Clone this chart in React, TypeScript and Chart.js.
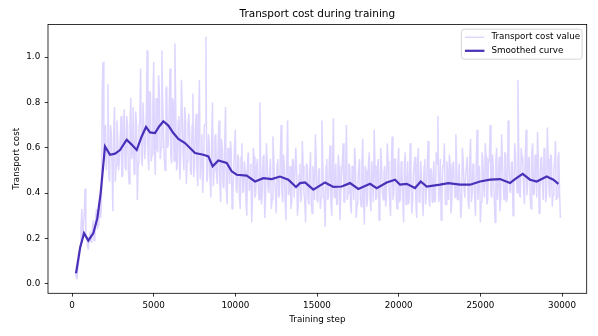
import React, { useEffect, useRef } from "react";
import { Chart, registerables } from "chart.js";

Chart.register(...registerables);

const chartTitle = "Transport cost during training";
const xAxisLabel = "Training step";
const yAxisLabel = "Transport cost";
const rawLabel = "Transport cost value";
const smoothLabel = "Smoothed curve";

const xTicks = [0, 5000, 10000, 15000, 20000, 25000, 30000];
const yTicks = [0.0, 0.2, 0.4, 0.6, 0.8, 1.0];

// raw values logged every 100 steps, starting at step 200
const rawFirstStep = 200;
const rawInterval = 100;
const rawValues = [
  0.05, 0.02, 0.09, 0.17, 0.33, 0.26, 0.42, 0.2, 0.15, 0.23,
  0.18, 0.28, 0.21, 0.33, 0.26, 0.36, 0.34, 0.98, 0.62, 0.5,
  0.88, 0.45, 0.67, 0.32, 0.78, 0.52, 0.63, 0.55, 0.74, 0.48,
  0.77, 0.5, 0.7, 0.44, 0.82, 0.58, 0.49, 0.76, 0.37, 0.68,
  0.95, 0.52, 0.8, 0.6, 1.03, 0.5, 0.84, 0.57, 0.98, 0.48,
  0.6, 0.92, 0.55, 1.03, 0.66, 0.5, 0.87, 0.62, 0.95, 0.53,
  0.8, 1.06, 0.5, 0.72, 0.46, 0.9, 0.58, 0.78, 0.44, 0.7,
  0.66, 0.48, 0.84, 0.52, 0.75, 0.43, 0.9, 0.55, 0.4, 0.7,
  1.09, 0.47, 0.62, 0.38, 0.8, 0.5, 0.66, 0.44, 0.72, 0.36,
  0.6, 0.42, 0.78, 0.35, 0.55, 0.63, 0.33, 0.5, 0.68, 0.4,
  0.55, 0.33, 0.62, 0.41, 0.5, 0.3, 0.58, 0.45, 0.27, 0.6,
  0.38, 0.52, 0.44, 0.8, 0.35, 0.56, 0.29, 0.62, 0.42, 0.5,
  0.33, 0.65, 0.45, 0.31, 0.55, 0.4, 0.7, 0.36, 0.52, 0.28,
  0.72, 0.41, 0.33, 0.55, 0.38, 0.6, 0.3, 0.48, 0.36, 0.63,
  0.4, 0.27, 0.52, 0.35, 0.58, 0.31, 0.45, 0.66, 0.37, 0.5,
  0.33, 0.72, 0.42, 0.25, 0.55, 0.38, 0.61, 0.3, 0.73, 0.44,
  0.35, 0.57, 0.28, 0.48, 0.62, 0.36, 0.7, 0.4, 0.52, 0.31,
  0.47, 0.6, 0.29, 0.43, 0.55, 0.34, 0.64, 0.26, 0.5, 0.39,
  0.58, 0.32, 0.46, 0.68, 0.37, 0.52, 0.28, 0.6, 0.41, 0.49,
  0.34, 0.62, 0.44, 0.3, 0.65, 0.4, 0.55, 0.33, 0.6, 0.37,
  0.5, 0.27, 0.58, 0.42, 0.35, 0.62, 0.31, 0.48, 0.56, 0.29,
  0.6, 0.38, 0.47, 0.3, 0.55, 0.41, 0.63, 0.34, 0.5, 0.45,
  0.36, 0.58, 0.74, 0.4, 0.28, 0.52, 0.62, 0.35, 0.48, 0.57,
  0.31, 0.5, 0.44, 0.66, 0.37, 0.53, 0.29, 0.6, 0.42, 0.48,
  0.56, 0.33, 0.64, 0.4, 0.5, 0.3, 0.68, 0.45, 0.27, 0.58,
  0.43, 0.62, 0.35, 0.55, 0.7, 0.38, 0.5, 0.27, 0.6, 0.46,
  0.32, 0.66, 0.44, 0.58, 0.36, 0.72, 0.41, 0.53, 0.3, 0.62,
  0.47, 0.9, 0.39, 0.6, 0.52, 0.35, 0.68, 0.45, 0.56, 0.33,
  0.62, 0.4, 0.5, 0.67, 0.31, 0.55, 0.44, 0.6, 0.36, 0.69,
  0.42, 0.57, 0.34, 0.5, 0.63, 0.38, 0.58, 0.29,
];

// raw values logged half-way between the above (steps 250, 350, ...)
const rawMidOffset = 50;
const rawMidValues = [
  0.03, 0.06, 0.12, 0.24, 0.2, 0.31, 0.22, 0.17, 0.21, 0.19,
  0.25, 0.19, 0.3, 0.24, 0.35, 0.29, 0.86, 0.55, 0.7, 0.6,
  0.48, 0.7, 0.52, 0.66, 0.45, 0.72, 0.5, 0.64, 0.47, 0.7,
  0.52, 0.74, 0.5, 0.7, 0.55, 0.78, 0.48, 0.7, 0.53, 0.72,
  0.56, 0.8, 0.55, 0.76, 0.58, 0.85, 0.54, 0.78, 0.6, 0.82,
  0.58, 0.84, 0.6, 0.8, 0.55, 0.86, 0.6, 0.78, 0.57, 0.82,
  0.54, 0.78, 0.52, 0.74, 0.55, 0.76, 0.5, 0.72, 0.54, 0.75,
  0.5, 0.7, 0.47, 0.68, 0.5, 0.72, 0.46, 0.66, 0.49, 0.7,
  0.45, 0.66, 0.46, 0.63, 0.43, 0.65, 0.47, 0.62, 0.44, 0.64,
  0.43, 0.62, 0.41, 0.6, 0.44, 0.58, 0.4, 0.6, 0.42, 0.57,
  0.38, 0.56, 0.4, 0.54, 0.36, 0.55, 0.41, 0.53, 0.37, 0.56,
  0.4, 0.55, 0.37, 0.54, 0.41, 0.57, 0.38, 0.53, 0.4, 0.55,
  0.37, 0.56, 0.41, 0.53, 0.38, 0.55, 0.4, 0.57, 0.36, 0.54,
  0.39, 0.52, 0.36, 0.54, 0.38, 0.51, 0.35, 0.53, 0.39, 0.52,
  0.36, 0.53, 0.38, 0.5, 0.35, 0.52, 0.37, 0.54, 0.36, 0.51,
  0.38, 0.53, 0.35, 0.52, 0.37, 0.54, 0.36, 0.51, 0.38, 0.53,
  0.35, 0.52, 0.38, 0.54, 0.36, 0.51, 0.37, 0.53, 0.35, 0.52,
  0.37, 0.54, 0.35, 0.51, 0.38, 0.53, 0.36, 0.52, 0.34, 0.53,
  0.37, 0.54, 0.36, 0.52, 0.38, 0.55, 0.36, 0.53, 0.37, 0.52,
  0.38, 0.54, 0.36, 0.53, 0.37, 0.55, 0.38, 0.52, 0.36, 0.54,
  0.37, 0.53, 0.35, 0.54, 0.38, 0.51, 0.36, 0.53, 0.37, 0.52,
  0.36, 0.54, 0.37, 0.52, 0.35, 0.53, 0.38, 0.51, 0.36, 0.54,
  0.37, 0.53, 0.36, 0.55, 0.38, 0.52, 0.35, 0.54, 0.37, 0.53,
  0.36, 0.54, 0.38, 0.52, 0.37, 0.53, 0.35, 0.54, 0.38, 0.52,
  0.37, 0.55, 0.36, 0.53, 0.38, 0.54, 0.37, 0.52, 0.36, 0.55,
  0.38, 0.56, 0.37, 0.54, 0.39, 0.57, 0.38, 0.55, 0.37, 0.56,
  0.39, 0.55, 0.37, 0.57, 0.38, 0.56, 0.4, 0.54, 0.38, 0.57,
  0.4, 0.58, 0.38, 0.56, 0.41, 0.57, 0.39, 0.55, 0.38, 0.58,
  0.39, 0.57, 0.38, 0.55, 0.4, 0.56, 0.37, 0.58, 0.39, 0.55,
  0.38, 0.56, 0.39, 0.54, 0.37, 0.55, 0.4,
];

const smoothSteps = [
  245, 500, 735, 1000, 1306, 1551, 1755, 2020, 2327, 2633, 2940, 3347, 3653,
  3960, 4265, 4530, 4776, 5082, 5347, 5592, 5898, 6204, 6510, 6918, 7531, 8041,
  8347, 8612, 8960, 9470, 9776, 10082, 10694, 11204, 11714, 12225, 12735, 13245,
  13714, 13959, 14265, 14775, 15490, 16000, 16510, 17020, 17530, 18245, 18653,
  19265, 19776, 20082, 20490, 21000, 21347, 21714, 22531, 23040, 23755, 24367,
  24980, 25592, 26204, 26816, 27122, 27592, 28041, 28449, 29061, 29469, 29776,
];
const smoothValues = [
  0.046, 0.16, 0.223, 0.19, 0.223, 0.289, 0.40, 0.606, 0.569, 0.574, 0.59,
  0.636, 0.614, 0.59, 0.65, 0.692, 0.668, 0.665, 0.695, 0.717, 0.698, 0.665,
  0.639, 0.621, 0.577, 0.569, 0.562, 0.518, 0.544, 0.533, 0.496, 0.481, 0.477,
  0.451, 0.466, 0.462, 0.473, 0.459, 0.427, 0.444, 0.447, 0.415, 0.447, 0.427,
  0.429, 0.444, 0.418, 0.441, 0.422, 0.447, 0.459, 0.437, 0.441, 0.422, 0.451,
  0.429, 0.437, 0.444, 0.437, 0.437, 0.451, 0.459, 0.462, 0.444, 0.462, 0.485,
  0.459, 0.451, 0.473, 0.459, 0.441,
];

const FONT = "'DejaVu Sans', 'Liberation Sans', sans-serif";
const RAW_COLOR = "rgba(175, 152, 255, 0.4)";
const SMOOTH_COLOR = "#4a2fb8";

const framePlugin = {
  id: "frameAndLegend",
  afterLayout(chart: any) {
    const ca = chart.chartArea;
    if (chart.titleBlock) {
      chart.titleBlock.left = ca.left;
      chart.titleBlock.right = ca.right;
    }
  },
  afterDraw(chart: any) {
    const ctx = chart.ctx;
    const ca = chart.chartArea;
    ctx.save();
    ctx.strokeStyle = "#000";
    ctx.lineWidth = 0.8;
    ctx.strokeRect(ca.left, ca.top, ca.right - ca.left, ca.bottom - ca.top);

    const fontSize = 8.75;
    ctx.font = `${fontSize}px ${FONT}`;
    const entries = [
      { label: rawLabel, color: "rgba(190, 170, 255, 0.7)", width: 1 },
      { label: smoothLabel, color: SMOOTH_COLOR, width: 2.2 },
    ];
    const textW = Math.max(...entries.map((e) => ctx.measureText(e.label).width));
    const boxRight = ca.right - 4.6;
    const boxTop = ca.top + 4.8;
    const boxW = textW + 32;
    const boxH = 30;
    const boxLeft = boxRight - boxW;
    const r = 2.6;
    ctx.beginPath();
    ctx.moveTo(boxLeft + r, boxTop);
    ctx.lineTo(boxRight - r, boxTop);
    ctx.arcTo(boxRight, boxTop, boxRight, boxTop + r, r);
    ctx.lineTo(boxRight, boxTop + boxH - r);
    ctx.arcTo(boxRight, boxTop + boxH, boxRight - r, boxTop + boxH, r);
    ctx.lineTo(boxLeft + r, boxTop + boxH);
    ctx.arcTo(boxLeft, boxTop + boxH, boxLeft, boxTop + boxH - r, r);
    ctx.lineTo(boxLeft, boxTop + r);
    ctx.arcTo(boxLeft, boxTop, boxLeft + r, boxTop, r);
    ctx.closePath();
    ctx.fillStyle = "rgba(255,255,255,0.8)";
    ctx.fill();
    ctx.strokeStyle = "#cccccc";
    ctx.lineWidth = 0.8;
    ctx.stroke();

    entries.forEach((e, i) => {
      const cy = boxTop + 8 + i * 13.6;
      ctx.beginPath();
      ctx.strokeStyle = e.color;
      ctx.lineWidth = e.width;
      ctx.moveTo(boxLeft + 3.5, cy);
      ctx.lineTo(boxLeft + 23, cy);
      ctx.stroke();
      ctx.fillStyle = "#000";
      ctx.textBaseline = "middle";
      ctx.textAlign = "left";
      ctx.fillText(e.label, boxLeft + 30, cy);
    });
    ctx.restore();
  },
};

export default function App() {
  const canvasRef = useRef<HTMLCanvasElement | null>(null);

  useEffect(() => {
    document.body.style.margin = "0";
    const canvas = canvasRef.current;
    if (!canvas) return;

    const rawData: { x: number; y: number }[] = [];
    rawValues.forEach((v, i) => {
      const step = rawFirstStep + i * rawInterval;
      rawData.push({ x: step, y: v });
      if (i < rawMidValues.length) {
        rawData.push({ x: step + rawMidOffset, y: rawMidValues[i] });
      }
    });
    const smoothData = smoothSteps.map((s, i) => ({ x: s, y: smoothValues[i] }));

    const tickFont = { family: FONT, size: 8.75 };

    const chart = new Chart(canvas, {
      type: "line",
      data: {
        datasets: [
          {
            label: smoothLabel,
            data: smoothData,
            borderColor: SMOOTH_COLOR,
            borderWidth: 2.2,
            pointRadius: 0,
            tension: 0,
            fill: false,
          },
          {
            label: rawLabel,
            data: rawData,
            borderColor: RAW_COLOR,
            borderWidth: 1.5,
            borderJoinStyle: "bevel",
            pointRadius: 0,
            tension: 0,
            fill: false,
          },
        ],
      },
      options: {
        responsive: false,
        animation: false,
        events: [],
        layout: { padding: { left: 0, right: 11.3, top: 0, bottom: 0 } },
        plugins: {
          legend: { display: false },
          tooltip: { enabled: false },
          title: {
            display: true,
            text: chartTitle,
            color: "#000",
            font: { family: FONT, size: 10.5, weight: "normal" },
            padding: { top: 8.4, bottom: 3.4 },
          },
        },
        scales: {
          x: {
            type: "linear",
            min: -1470,
            max: 31510,
            afterBuildTicks: (scale: any) => {
              scale.ticks = xTicks.map((v) => ({ value: v }));
            },
            afterFit: (scale: any) => {
              scale.height = 42.7;
            },
            ticks: {
              color: "#000",
              font: tickFont,
              padding: 3.5,
              maxRotation: 0,
              autoSkip: false,
              callback: (v: any) => String(v),
            },
            grid: {
              display: true,
              drawOnChartArea: false,
              drawTicks: true,
              tickLength: 3.3,
              tickWidth: 0.8,
              tickColor: "#000",
            },
            border: { display: false },
            title: {
              display: true,
              text: xAxisLabel,
              color: "#000",
              font: { family: FONT, size: 8.75 },
              padding: { top: 0, bottom: 11.4 },
            },
          },
          y: {
            type: "linear",
            min: -0.0425,
            max: 1.1447,
            afterBuildTicks: (scale: any) => {
              scale.ticks = yTicks.map((v) => ({ value: v }));
            },
            afterFit: (scale: any) => {
              scale.width = 48;
            },
            ticks: {
              color: "#000",
              font: tickFont,
              padding: 4.5,
              autoSkip: false,
              callback: (v: any) => Number(v).toFixed(1),
            },
            grid: {
              display: true,
              drawOnChartArea: false,
              drawTicks: true,
              tickLength: 3.3,
              tickWidth: 0.8,
              tickColor: "#000",
            },
            border: { display: false },
            title: {
              display: true,
              text: yAxisLabel,
              color: "#000",
              font: { family: FONT, size: 8.75 },
              padding: { top: 11.7, bottom: 0 },
            },
          },
        },
      },
      plugins: [framePlugin],
    } as any);

    return () => {
      chart.destroy();
    };
  }, []);

  return (
    <div style={{ width: 598, height: 336, background: "#fff" }}>
      <canvas ref={canvasRef} width={598} height={336} style={{ display: "block" }} />
    </div>
  );
}
